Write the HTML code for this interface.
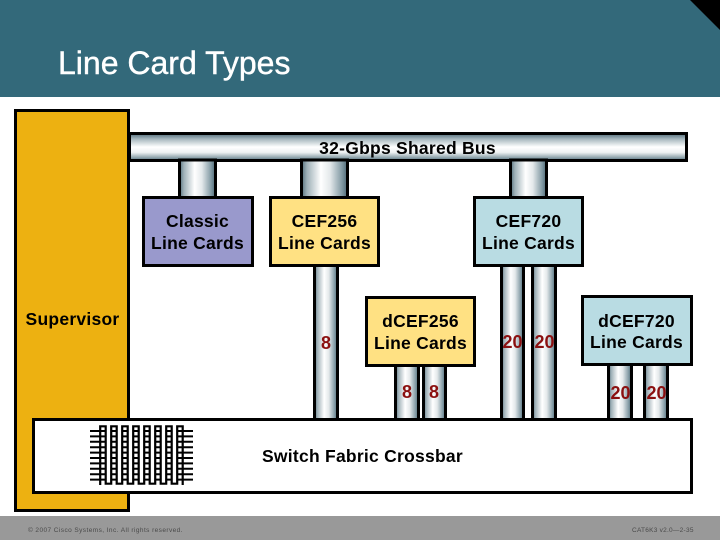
<!DOCTYPE html>
<html>
<head>
<meta charset="utf-8">
<title>Line Card Types</title>
<style>
html,body{margin:0;padding:0;background:#fff}
svg{display:block}
text{font-family:"Liberation Sans",Arial,sans-serif}
.l{font-weight:bold;font-size:17.5px;letter-spacing:.25px;text-anchor:middle;fill:#000}
.n{font-weight:bold;font-size:18px;text-anchor:middle;fill:#8b1010}
.f{font-size:6.5px;fill:#4a4a4a}
.p{fill:url(#h);stroke:#000;stroke-width:3}
.b{stroke:#000;stroke-width:3}
</style>
</head>
<body>
<svg width="720" height="540" viewBox="0 0 720 540" xmlns="http://www.w3.org/2000/svg">
<defs>
<linearGradient id="h" x1="0" y1="0" x2="1" y2="0">
<stop offset="0" stop-color="#54707c"/><stop offset=".12" stop-color="#9eb0b7"/><stop offset=".42" stop-color="#ffffff"/><stop offset=".62" stop-color="#e4e9eb"/><stop offset=".88" stop-color="#8199a3"/><stop offset="1" stop-color="#4d6875"/>
</linearGradient>
<linearGradient id="v" x1="0" y1="0" x2="0" y2="1">
<stop offset="0" stop-color="#4f6a76"/><stop offset=".2" stop-color="#a5b6bd"/><stop offset=".5" stop-color="#ffffff"/><stop offset=".7" stop-color="#eef1f2"/><stop offset=".9" stop-color="#8ba0a9"/><stop offset="1" stop-color="#4f6a76"/>
</linearGradient>
</defs>
<rect width="720" height="540" fill="#fff"/>
<rect width="720" height="97" fill="#33697a"/>
<polygon points="690,0 720,0 720,30" fill="#000"/>
<text x="58" y="74" font-size="32" fill="#fff" stroke="#fff" stroke-width=".4">Line Card Types</text>

<rect x="15.5" y="110.5" width="113" height="400" fill="#edb111" class="b"/>
<rect x="129.5" y="133.5" width="557" height="27" fill="url(#v)" class="b"/>

<rect x="179.500" y="160" width="36" height="38" class="p"/>
<rect x="301.500" y="160" width="46" height="38" class="p"/>
<rect x="510.500" y="160" width="36" height="38" class="p"/>

<rect x="314.500" y="265" width="23" height="155" class="p"/>
<rect x="501.500" y="265" width="22" height="155" class="p"/>
<rect x="532.500" y="265" width="23" height="155" class="p"/>
<rect x="395.500" y="365" width="23" height="55" class="p"/>
<rect x="423.500" y="365" width="22" height="55" class="p"/>
<rect x="608.500" y="364" width="23" height="56" class="p"/>
<rect x="644.500" y="364" width="23" height="56" class="p"/>

<rect x="143.500" y="197.500" width="109" height="68" fill="#9999cc" class="b"/>
<rect x="270.500" y="197.500" width="108" height="68" fill="#ffe183" class="b"/>
<rect x="474.500" y="197.500" width="108" height="68" fill="#b9dce3" class="b"/>
<rect x="366.500" y="297.500" width="108" height="68" fill="#ffe183" class="b"/>
<rect x="582.500" y="296.500" width="109" height="68" fill="#b9dce3" class="b"/>

<rect x="33.500" y="419.500" width="658" height="73" fill="#fff" class="b"/>

<path d="M90 431H193M90 436.400H193M90 441.800H193M90 447.200H193M90 452.600H193M90 458H193M90 463.400H193M90 468.800H193M90 474.200H193M90 479.600H193" stroke="#000" stroke-width="2" fill="none"/>
<path d="M108.450 426V484M119.450 426V484M130.450 426V484M141.450 426V484M152.450 426V484M163.450 426V484M174.450 426V484" stroke="#fff" stroke-width="4.500" fill="none"/>
<path d="M100.200 485V426.300H105.700V483.700H111.200V426.300H116.700V483.700H122.200V426.300H127.700V483.700H133.200V426.300H138.700V483.700H144.200V426.300H149.700V483.700H155.200V426.300H160.700V483.700H166.200V426.300H171.700V483.700H177.200V426.300H182.700V485" fill="none" stroke="#000" stroke-width="2.200"/>

<text class="l" x="407.500" y="154">32-Gbps Shared Bus</text>
<text class="l" x="197.500" y="227">Classic</text>
<text class="l" x="197.500" y="249">Line Cards</text>
<text class="l" x="324.500" y="227">CEF256</text>
<text class="l" x="324.500" y="249">Line Cards</text>
<text class="l" x="528.500" y="227">CEF720</text>
<text class="l" x="528.500" y="249">Line Cards</text>
<text class="l" x="420.500" y="327">dCEF256</text>
<text class="l" x="420.500" y="349">Line Cards</text>
<text class="l" x="636.500" y="327">dCEF720</text>
<text class="l" x="636.500" y="348">Line Cards</text>
<text class="l" x="72.500" y="325">Supervisor</text>
<text class="l" x="362.500" y="462">Switch Fabric Crossbar</text>

<text class="n" x="326" y="349">8</text>
<text class="n" x="407" y="398">8</text>
<text class="n" x="434" y="398">8</text>
<text class="n" x="512.500" y="348">20</text>
<text class="n" x="544.500" y="348">20</text>
<text class="n" x="620.500" y="399">20</text>
<text class="n" x="656.500" y="399">20</text>

<rect y="516" width="720" height="24" fill="#999"/>
<text class="f" x="28" y="532" letter-spacing=".42">© 2007 Cisco Systems, Inc. All rights reserved.</text>
<text class="f" x="632" y="532" letter-spacing=".25">CAT6K3 v2.0—2-35</text>
</svg>
</body>
</html>
